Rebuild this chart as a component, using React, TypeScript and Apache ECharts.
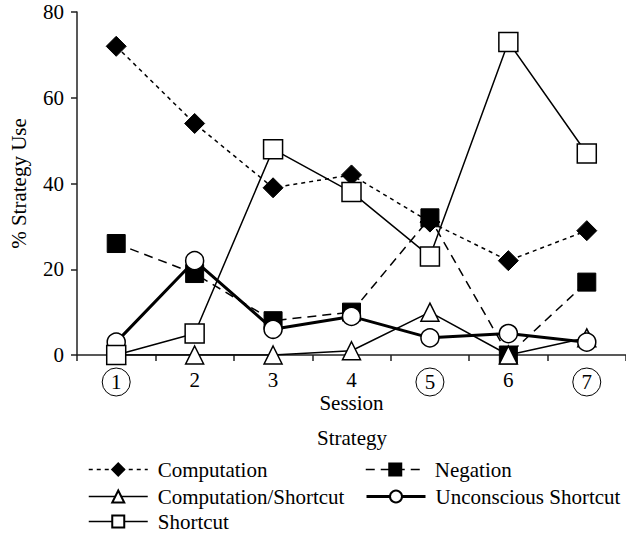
import React, { useEffect, useRef } from "react";
import * as echarts from "echarts";

const sessions = ["1", "2", "3", "4", "5", "6", "7"];
const circledSessions = ["1", "5", "7"];
const computation = [72, 54, 39, 42, 31, 22, 29];
const negation = [26, 19, 8, 10, 32, 0, 17];
const computationShortcut = [0, 0, 0, 1, 10, 0, 4];
const unconsciousShortcut = [3, 22, 6, 9, 4, 5, 3];
const shortcut = [0, 5, 48, 38, 23, 73, 47];

const FONT = "'Liberation Serif', 'Times New Roman', serif";
const FS = 21;

export default function App() {
  const ref = useRef<HTMLDivElement>(null);
  useEffect(() => {
    document.body.style.margin = "0";
    if (!ref.current) return;
    const chart = echarts.init(ref.current, null, { renderer: "svg" });
    const axisColor = "#222";
    const legendBase = (name: string, left: number, top: number, lw: number) => ({
      data: [name],
      left,
      top,
      padding: 0,
      itemWidth: 59,
      itemHeight: 15,
      selectedMode: false,
      lineStyle: { width: lw },
      textStyle: {
        fontFamily: FONT,
        fontSize: FS,
        color: "#000",
        padding: [0, 0, 0, 5],
      },
    });
    chart.setOption({
      animation: false,
      backgroundColor: "#fff",
      textStyle: { fontFamily: FONT, color: "#000" },
      grid: { left: 77, top: 12, width: 551, height: 343 },
      xAxis: {
        type: "category",
        data: sessions,
        boundaryGap: true,
        name: "Session",
        nameLocation: "middle",
        nameGap: 37,
        nameMoveOverlap: false,
        nameTextStyle: { fontFamily: FONT, fontSize: FS, color: "#000" },
        axisLine: { show: true, lineStyle: { color: axisColor, width: 1.5 } },
        axisTick: {
          show: true,
          inside: false,
          length: 6,
          alignWithLabel: false,
          lineStyle: { color: axisColor, width: 1.5 },
        },
        axisLabel: {
          margin: 13,
          verticalAlign: "top",
          formatter: (v: string) =>
            circledSessions.includes(v) ? `{c|${v}}` : `{n|${v}}`,
          rich: {
            c: {
              width: 28,
              height: 28,
              lineHeight: 28,
              align: "center",
              borderRadius: 14,
              borderWidth: 1,
              borderColor: "#000",
              fontFamily: FONT,
              fontSize: FS,
              color: "#000",
            },
            n: {
              lineHeight: 17,
              padding: [1, 0, 0, 0],
              align: "center",
              verticalAlign: "top",
              fontFamily: FONT,
              fontSize: FS,
              color: "#000",
            },
          },
        },
        splitLine: { show: false },
      },
      yAxis: {
        type: "value",
        min: 0,
        max: 80,
        interval: 20,
        name: "% Strategy Use",
        nameLocation: "middle",
        nameGap: 48,
        nameMoveOverlap: false,
        nameTextStyle: { fontFamily: FONT, fontSize: FS, color: "#000" },
        axisLine: { show: true, lineStyle: { color: axisColor, width: 1.5 } },
        axisTick: {
          show: true,
          inside: false,
          length: 6,
          lineStyle: { color: axisColor, width: 1.5 },
        },
        axisLabel: {
          margin: 13,
          fontFamily: FONT,
          fontSize: FS,
          color: "#000",
        },
        splitLine: { show: false },
      },
      legend: [
        legendBase("Computation", 88, 459, 1.5),
        legendBase("Computation/Shortcut", 88, 486, 1.5),
        legendBase("Shortcut", 88, 511, 1.5),
        legendBase("Negation", 365, 459, 1.5),
        legendBase("Unconscious Shortcut", 365, 486, 3),
      ],
      graphic: [
        {
          type: "text",
          x: 352,
          y: 438,
          style: {
            text: "Strategy",
            fontFamily: FONT,
            fontSize: FS,
            fill: "#000",
            align: "center",
            verticalAlign: "middle",
          },
        },
      ],
      series: [
        {
          name: "Computation",
          type: "line",
          data: computation,
          symbol: "diamond",
          symbolSize: 20,
          lineStyle: { color: "#000", width: 1.5, type: [4, 4] },
          itemStyle: { color: "#000", borderColor: "#000", borderWidth: 1 },
        },
        {
          name: "Negation",
          type: "line",
          data: negation,
          symbol: "rect",
          symbolSize: 18,
          lineStyle: { color: "#000", width: 1.5, type: [9, 6] },
          itemStyle: { color: "#000", borderColor: "#000", borderWidth: 1 },
        },
        {
          name: "Computation/Shortcut",
          type: "line",
          data: computationShortcut,
          symbol: "triangle",
          symbolSize: 18,
          lineStyle: { color: "#000", width: 1.5 },
          itemStyle: { color: "#fff", borderColor: "#000", borderWidth: 1.5 },
        },
        {
          name: "Unconscious Shortcut",
          type: "line",
          data: unconsciousShortcut,
          symbol: "circle",
          symbolSize: 18,
          lineStyle: { color: "#000", width: 3 },
          itemStyle: { color: "#fff", borderColor: "#000", borderWidth: 1.5 },
        },
        {
          name: "Shortcut",
          type: "line",
          data: shortcut,
          symbol: "rect",
          symbolSize: 19,
          lineStyle: { color: "#000", width: 1.5 },
          itemStyle: { color: "#fff", borderColor: "#000", borderWidth: 1.5 },
        },
      ],
    });
    return () => chart.dispose();
  }, []);
  return <div ref={ref} style={{ width: 626, height: 536 }} />;
}
